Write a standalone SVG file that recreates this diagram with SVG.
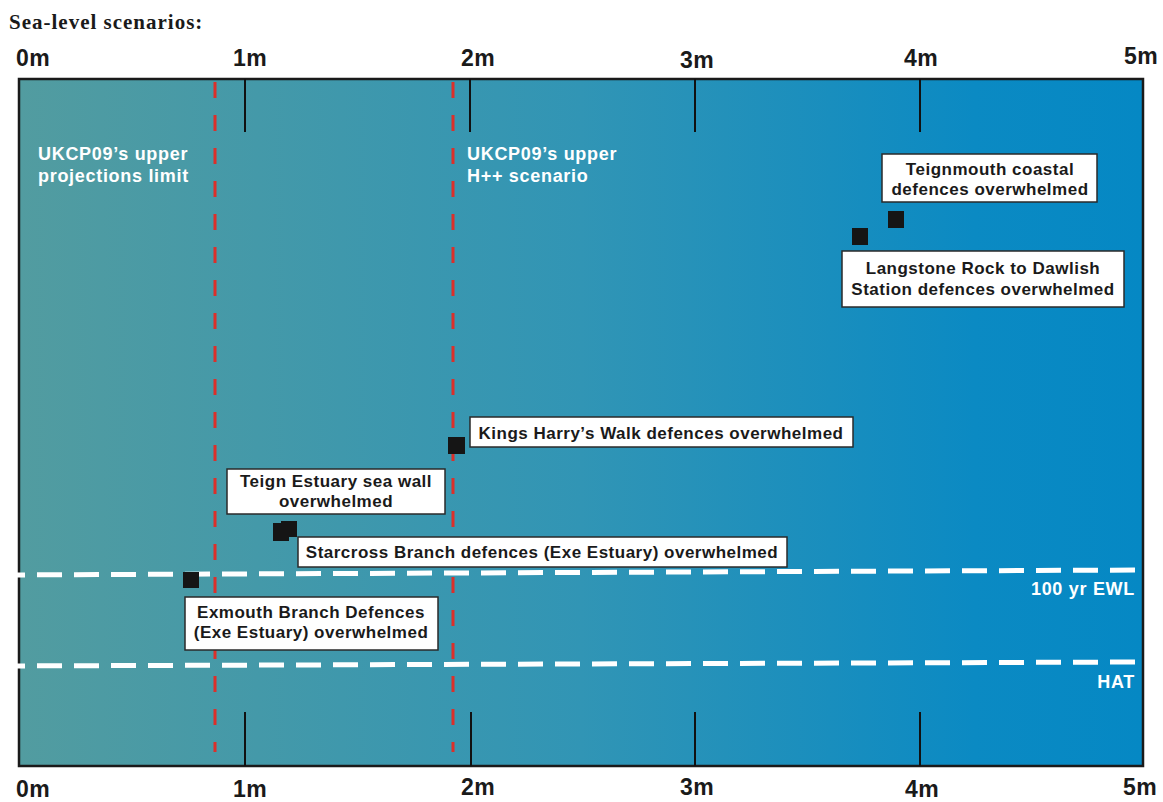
<svg xmlns="http://www.w3.org/2000/svg" width="1163" height="802" viewBox="0 0 1163 802">
<defs>
<linearGradient id="sea" x1="0" y1="0" x2="1" y2="0">
<stop offset="0" stop-color="#529ca0"/>
<stop offset="0.5" stop-color="#3195b5"/>
<stop offset="0.85" stop-color="#0b8ac3"/>
<stop offset="1" stop-color="#0588c4"/>
</linearGradient>
<style>
.title{font-family:"Liberation Serif","Times New Roman",serif;font-weight:bold;font-size:21px;letter-spacing:1px;fill:#1a1a1a}
.ax{font-family:"Liberation Sans",Arial,sans-serif;font-weight:bold;font-size:23px;letter-spacing:0.5px;fill:#1a1a1a;text-anchor:middle}
.wt{font-family:"Liberation Sans",Arial,sans-serif;font-weight:bold;font-size:18px;letter-spacing:0.7px;fill:#ffffff}
.bt{font-family:"Liberation Sans",Arial,sans-serif;font-weight:bold;font-size:17px;letter-spacing:0.5px;fill:#1a1a1a;text-anchor:middle}
.box{fill:#ffffff;stroke:#2a2a2a;stroke-width:1.5}
.tick{stroke:#111;stroke-width:2}
.red{stroke:#dc2f2a;stroke-width:3;stroke-dasharray:16 17;fill:none}
.wd{stroke:#ffffff;stroke-width:5;stroke-dasharray:25 12;fill:none}
.sq{fill:#151515}
</style>
</defs>
<rect width="1163" height="802" fill="#ffffff"/>
<text class="title" x="9" y="29">Sea-level scenarios:</text>
<g id="axis-top">
<text class="ax" x="33" y="66">0m</text>
<text class="ax" x="250" y="66">1m</text>
<text class="ax" x="478" y="66">2m</text>
<text class="ax" x="697" y="68">3m</text>
<text class="ax" x="921" y="66">4m</text>
<text class="ax" x="1141" y="64">5m</text>
</g>
<g id="panel">
<rect x="19" y="79" width="1124" height="687" fill="url(#sea)" stroke="#1a1a1a" stroke-width="2.5"/>
<line class="tick" x1="245" y1="79" x2="245" y2="132"/>
<line class="tick" x1="470" y1="79" x2="470" y2="132"/>
<line class="tick" x1="695" y1="79" x2="695" y2="132"/>
<line class="tick" x1="920" y1="79" x2="920" y2="132"/>
<line class="tick" x1="245" y1="712" x2="245" y2="766"/>
<line class="tick" x1="471" y1="712" x2="471" y2="766"/>
<line class="tick" x1="695" y1="712" x2="695" y2="766"/>
<line class="tick" x1="920" y1="712" x2="920" y2="766"/>
</g>
<g id="connectors">
<line class="red" x1="215" y1="82" x2="215" y2="752"/>
<line class="red" x1="453" y1="82" x2="453" y2="752"/>
<line class="wd" x1="0" y1="575" x2="1143" y2="570"/>
<line class="wd" x1="0" y1="666" x2="1143" y2="662"/>
</g>
<g id="label-ukcp-projections">
<text class="wt" x="38" y="160">UKCP09’s upper</text>
<text class="wt" x="38" y="182">projections limit</text>
</g>
<g id="label-ukcp-hpp">
<text class="wt" x="467" y="160">UKCP09’s upper</text>
<text class="wt" x="467" y="182">H++ scenario</text>
</g>
<g id="label-ewl"><text class="wt" x="1135" y="595" text-anchor="end">100 yr EWL</text></g>
<g id="label-hat"><text class="wt" x="1135" y="688" text-anchor="end">HAT</text></g>
<g id="node-teignmouth">
<rect class="box" x="882" y="154" width="215" height="48"/>
<text class="bt" x="990" y="175">Teignmouth coastal</text>
<text class="bt" x="990" y="195">defences overwhelmed</text>
<rect class="sq" x="888" y="211" width="16" height="17"/>
</g>
<g id="node-langstone">
<rect class="box" x="842" y="251" width="282" height="56"/>
<text class="bt" x="983" y="274">Langstone Rock to Dawlish</text>
<text class="bt" x="983" y="295">Station defences overwhelmed</text>
<rect class="sq" x="852" y="228" width="16" height="17"/>
</g>
<g id="node-kings-harry">
<rect class="box" x="470" y="417" width="383" height="30"/>
<text class="bt" x="661" y="439">Kings Harry’s Walk defences overwhelmed</text>
<rect class="sq" x="448" y="437" width="17" height="17"/>
</g>
<g id="node-teign-estuary">
<rect class="box" x="227" y="469" width="218" height="45"/>
<text class="bt" x="336" y="487">Teign Estuary sea wall</text>
<text class="bt" x="336" y="507">overwhelmed</text>
<rect class="sq" x="281" y="521" width="16" height="16"/>
</g>
<g id="node-starcross">
<rect class="box" x="298" y="537" width="489" height="30"/>
<text class="bt" x="542" y="558">Starcross Branch defences (Exe Estuary) overwhelmed</text>
<rect class="sq" x="273" y="523" width="16" height="18"/>
</g>
<g id="node-exmouth">
<rect class="box" x="185" y="597" width="253" height="53"/>
<text class="bt" x="311" y="618">Exmouth Branch Defences</text>
<text class="bt" x="311" y="638">(Exe Estuary) overwhelmed</text>
<rect class="sq" x="183" y="572" width="16" height="16"/>
</g>
<g id="axis-bottom">
<text class="ax" x="33" y="797">0m</text>
<text class="ax" x="250" y="797">1m</text>
<text class="ax" x="478" y="795">2m</text>
<text class="ax" x="697" y="795">3m</text>
<text class="ax" x="922" y="797">4m</text>
<text class="ax" x="1140" y="795">5m</text>
</g>
</svg>
